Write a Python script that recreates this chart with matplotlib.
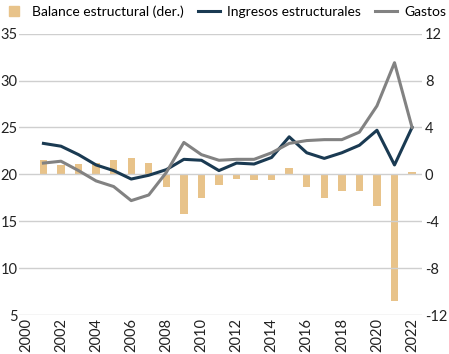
import matplotlib.pyplot as plt
from matplotlib.lines import Line2D

plt.rcParams['font.family'] = ['Lato', 'DejaVu Sans']
plt.rcParams['axes.unicode_minus'] = False

years = list(range(2001, 2023))
ingresos = [23.3, 23.0, 22.1, 21.0, 20.4, 19.5, 19.9, 20.5, 21.6, 21.5, 20.4,
            21.2, 21.1, 21.8, 24.0, 22.3, 21.7, 22.3, 23.1, 24.7, 21.0, 25.0]
gastos = [21.2, 21.4, 20.4, 19.3, 18.7, 17.2, 17.8, 20.2, 23.4, 22.1, 21.5,
          21.6, 21.6, 22.3, 23.3, 23.6, 23.7, 23.7, 24.5, 27.3, 31.9, 25.0]
balance = [1.2, 0.8, 0.9, 1.0, 1.2, 1.4, 1.0, -1.1, -3.4, -2.0, -0.9,
           -0.4, -0.5, -0.5, 0.5, -1.1, -2.0, -1.4, -1.4, -2.7, -10.8, 0.2]
xticks = list(range(2000, 2023, 2))

c_bar = '#E8C38A'
c_ing = '#1A3A52'
c_gas = '#828282'
c_grid = '#CFCFCF'

fig = plt.figure(figsize=(4.49, 3.54), dpi=100)
ax = fig.add_axes([0.042, 0.11, 0.898, 0.795])
ax2 = ax.twinx()

# bars on the right axis, drawn behind the lines
ax2.bar(years, balance, width=0.42, color=c_bar, zorder=2)
ax2.set_ylim(-12, 12)
ax2.set_yticks([-12, -8, -4, 0, 4, 8, 12])

ax.plot(years, ingresos, color=c_ing, lw=2.2, zorder=3)
ax.plot(years, gastos, color=c_gas, lw=2.2, zorder=3)
ax.set_ylim(5, 35)
ax.set_yticks(range(5, 36, 5))
ax.set_xlim(1999.6, 2022.57)
ax.set_xticks(xticks)
ax.set_xticklabels([str(y) for y in xticks], rotation=90)
ax.set_zorder(ax2.get_zorder() + 1)
ax.patch.set_visible(False)

for a in (ax, ax2):
    for s in a.spines.values():
        s.set_visible(False)
    a.tick_params(length=0, labelsize=10.5, colors='#222222', pad=2)
ax.tick_params(axis='y', pad=1)
ax.yaxis.grid(True, color=c_grid, lw=1)
ax.set_axisbelow(True)

handles = [
    Line2D([], [], marker='s', color=c_bar, ls='none', markersize=7),
    Line2D([], [], color=c_ing, lw=2.2),
    Line2D([], [], color=c_gas, lw=2.2),
]
labels = ['Balance estructural (der.)', 'Ingresos estructurales', 'Gastos']
fig.legend(handles, labels, loc='upper center', bbox_to_anchor=(0.5, 1.02),
           ncol=3, frameon=False, fontsize=10, handlelength=1.6,
           handletextpad=0.5, columnspacing=1.0)

fig.savefig('out.png', dpi=100)
